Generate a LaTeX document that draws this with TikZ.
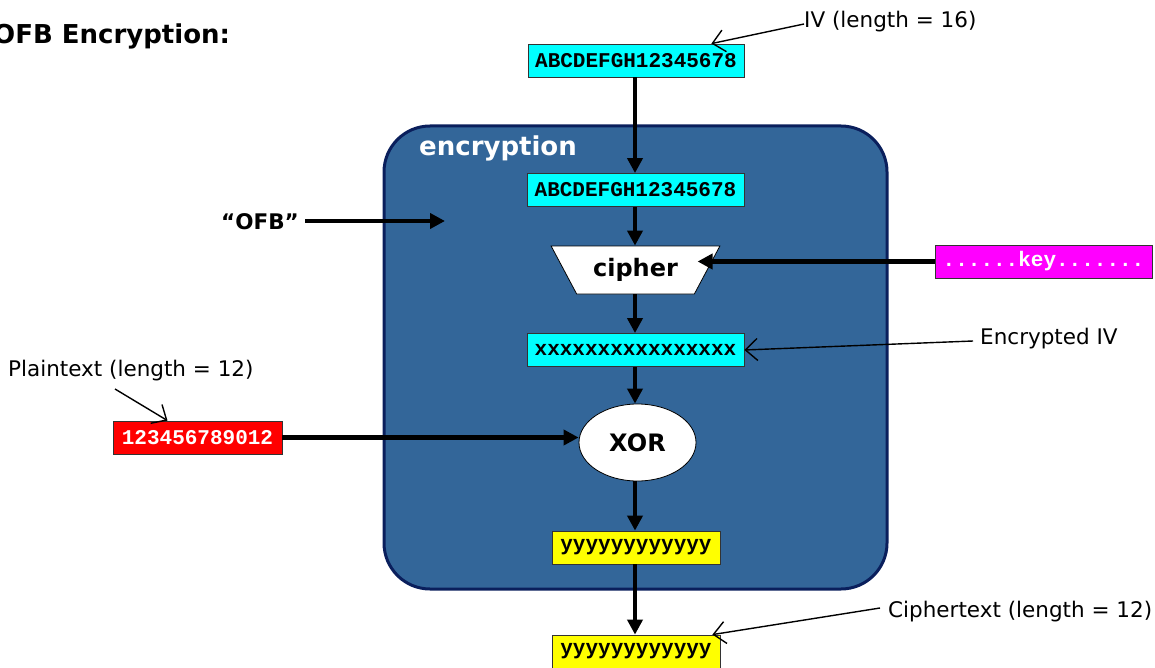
\documentclass[tikz,border=0pt]{standalone}
\usepackage{fontspec}
\setmainfont{DejaVu Sans}
\newfontfamily\codefont{Liberation Mono}
\usetikzlibrary{arrows.meta,shapes.geometric}
\definecolor{encblue}{HTML}{336699}
\definecolor{encedge}{HTML}{0A1F5C}
\definecolor{aqua}{HTML}{00FFFF}
\definecolor{pink}{HTML}{FF00FF}
\definecolor{pure red}{HTML}{FF0000}
\definecolor{pure yellow}{HTML}{FFFF00}
\tikzset{
  flow/.style={line width=4.5pt,-{Triangle[length=15pt,width=15pt]}},
  note/.style={line width=1.4pt,-{Straight Barb[length=12pt,width=22pt,line width=1.4pt]}},
  databox/.style={draw=black!80,line width=0.8pt,inner sep=0pt,minimum height=33pt,
    font=\codefont\bfseries\fontsize{21}{24}\selectfont},
  label/.style={font=\fontsize{21.5}{25}\selectfont,inner sep=0pt},
  bold/.style={font=\bfseries\fontsize{24}{28}\selectfont,inner sep=0pt}
}
\begin{document}
\begin{tikzpicture}[x=1pt,y=-1pt]
\useasboundingbox (0,0) rectangle (1155,668);

% the encryption block
\draw[fill=encblue,draw=encedge,line width=3pt,rounded corners=46pt]
  (384,126) rectangle (887,589);
\node[font=\bfseries\fontsize{26}{30}\selectfont,text=white,anchor=west,inner sep=0pt] (enc) at (419,148) {encryption};

% title
\node[font=\bfseries\fontsize{26}{30}\selectfont,anchor=west,inner sep=0pt] (title) at (-7,36) {OFB Encryption:};

% data boxes
\node[databox,fill=aqua,minimum width=216pt] (iv) at (636,60.5) {ABCDEFGH12345678};
\node[databox,fill=aqua,minimum width=217pt] (iv2) at (635.5,190) {ABCDEFGH12345678};
\node[trapezium,trapezium stretches=true,shape border rotate=180,trapezium angle=51.6,
  minimum width=169pt,minimum height=48pt,draw=black,line width=0.8pt,fill=white,
  inner sep=0pt,bold] (cipher) at (635.5,270) {cipher};
\node[databox,fill=aqua,minimum width=217pt] (eiv) at (635.5,350) {xxxxxxxxxxxxxxxx};
\node[ellipse,draw=black,line width=0.8pt,fill=white,minimum width=117pt,minimum height=77pt,
  inner sep=0pt,bold] (xor) at (637.5,442.5) {XOR};
\node[databox,fill=pure yellow,minimum width=168pt] (ct) at (636,547.5) {yyyyyyyyyyyy};
\node[databox,fill=pure yellow,minimum width=168pt] (ctout) at (636,651.5) {yyyyyyyyyyyy};
\node[databox,fill=pink,text=white,minimum width=217pt] (key) at (1043.5,261.5) {......key.......};
\node[databox,fill=pure red,text=white,minimum width=169pt] (pt) at (197.5,437.5) {123456789012};

% mode input
\node[font=\bfseries\fontsize{21.5}{25}\selectfont,inner sep=0pt] (ofb) at (260,222) {“OFB”};
\coordinate (ofbend) at (445,221);

% data flow
\draw[flow] (iv.south -| 635,0) -- (iv2.north -| 635,0);
\draw[flow] (iv2.south -| 635,0) -- (cipher.north -| 635,0);
\draw[flow] (cipher.south -| 635,0) -- (eiv.north -| 635,0);
\draw[flow] (eiv.south -| 635,0) -- (xor.north -| 635,0);
\draw[flow] (xor.south -| 635,0) -- (ct.north -| 635,0);
\draw[flow] (ct.south -| 635,0) -- (ctout.north -| 635,0);
\draw[flow] (key.west) -- ([xshift=-10pt]key.west -| cipher.east);
\draw[flow] (pt.east) -- (pt.east -| xor.west);
\draw[flow] (305,221) -- (ofbend);

% annotations
\node[label,anchor=west] (ivlab) at (804,22) {IV (length = 16)};
\node[label,anchor=west] (eivlab) at (980,339) {Encrypted IV};
\node[label,anchor=west] (ptlab) at (8,371) {Plaintext (length = 12)};
\node[label,anchor=west] (ctlab) at (888,612) {Ciphertext (length = 12)};
\draw[note] ([yshift=-2pt]ivlab.west) -- ([xshift=-33pt]iv.north east);
\draw[note] ([xshift=-7pt,yshift=-2pt]eivlab.west) -- (eiv.east);
\draw[note] (115,389) -- ([xshift=-30pt]pt.north);
\draw[note] ([xshift=-8pt,yshift=4pt]ctlab.west) -- ([xshift=-8pt]ctout.north east);
\end{tikzpicture}
\end{document}
